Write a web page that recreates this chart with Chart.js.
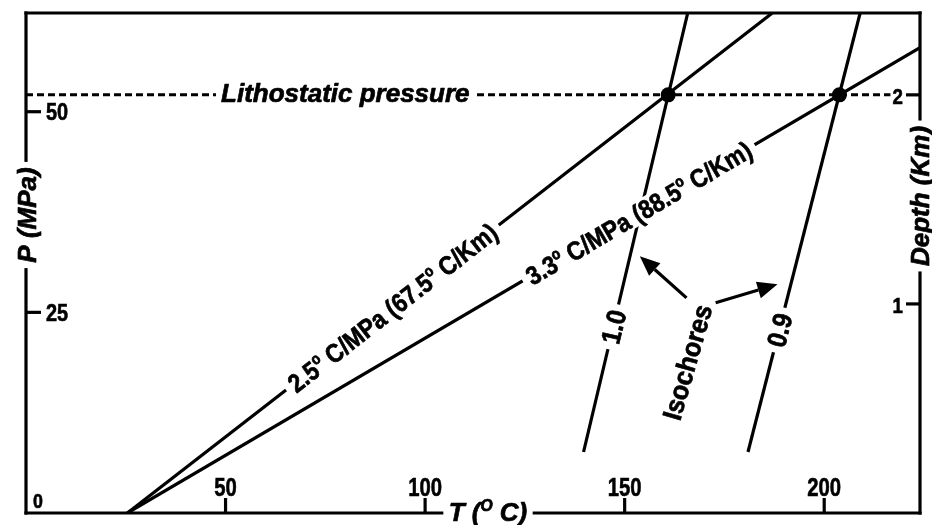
<!DOCTYPE html>
<html><head><meta charset="utf-8">
<script src="https://cdn.jsdelivr.net/npm/chart.js@4.4.1/dist/chart.umd.min.js"></script>
<style>html,body{margin:0;padding:0;background:#fff}</style>
</head><body>
<canvas id="c" width="932" height="525"></canvas>
<script>
// ---- data (T in °C, P in MPa) ----
const xTicks = [50, 100, 150, 200];
const yTicks = [25, 50];
const depthTicks = [1, 2];
const mpaPerKm = 26.05;
const lithostaticP = 52.1;
const geotherm25 = [{x: 25.4, y: 0}, {x: 187.0, y: 62.3}];
const geotherm33 = [{x: 25.4, y: 0}, {x: 224.4, y: 58.1}];
const isochore10 = [{x: 139.7, y: 7.6}, {x: 165.8, y: 62.3}];
const isochore09 = [{x: 180.9, y: 7.6}, {x: 209.0, y: 62.3}];
const lithostatic = [{x: 0, y: lithostaticP}, {x: 216.6, y: lithostaticP}];
const intersections = [{x: 160.9, y: lithostaticP}, {x: 203.8, y: lithostaticP}];

// ---- annotation anchors (data coords) ----
const arrows = [
  {from: {x: 165.5, y: 26.8}, to: {x: 153.8, y: 32.0}},
  {from: {x: 172.8, y: 26.2}, to: {x: 188.3, y: 28.5}}
];

const FONT = '"Liberation Sans", Arial, Helvetica, sans-serif';
function setFont(ctx, size, italic) {
  ctx.font = (italic ? 'italic ' : '') + 'bold ' + size + 'px ' + FONT;
}
function richWidth(ctx, parts, size, italic) {
  let w = 0;
  for (const p of parts) { setFont(ctx, p.sup ? size * 0.6 : size, italic); w += ctx.measureText(p.t).width; }
  return w;
}
function drawRich(ctx, parts, cx, cy, angle, size, sx, italic, bg) {
  ctx.save();
  ctx.translate(cx, cy); ctx.rotate(angle); ctx.scale(sx, 1);
  const w = richWidth(ctx, parts, size, italic);
  if (bg) { ctx.fillStyle = '#fff'; ctx.fillRect(-w / 2 - bg / sx, -size * 0.45, w + 2 * bg / sx, size * 0.9); }
  ctx.fillStyle = '#000'; ctx.strokeStyle = '#000'; ctx.lineWidth = 0.7; ctx.lineJoin = 'round';
  ctx.textAlign = 'left'; ctx.textBaseline = 'alphabetic';
  let x = -w / 2;
  for (const p of parts) {
    const s = p.sup ? size * 0.6 : size;
    setFont(ctx, s, italic);
    const yy = p.sup ? -size * 0.05 : size * 0.36;
    ctx.fillText(p.t, x, yy);
    ctx.strokeText(p.t, x, yy);
    x += ctx.measureText(p.t).width;
  }
  ctx.restore();
  return w * sx;
}
function simpleText(ctx, t, x, y, size, sx, align) {
  ctx.save(); setFont(ctx, size, false); ctx.translate(x, y); ctx.scale(sx, 1);
  ctx.fillStyle = '#000'; ctx.strokeStyle = '#000'; ctx.lineWidth = 0.6;
  ctx.textAlign = align; ctx.textBaseline = 'alphabetic';
  ctx.fillText(t, 0, size * 0.36); ctx.strokeText(t, 0, size * 0.36); ctx.restore();
}
function lineAngle(chart, pts) {
  const xs = chart.scales.x, ys = chart.scales.y;
  const a = pts[0], b = pts[pts.length - 1];
  return Math.atan2(ys.getPixelForValue(b.y) - ys.getPixelForValue(a.y), xs.getPixelForValue(b.x) - xs.getPixelForValue(a.x));
}
function onLine(pts, p) {
  const a = pts[0], b = pts[pts.length - 1];
  return a.x + (b.x - a.x) * (p - a.y) / (b.y - a.y);
}

const decor = {
  id: 'decor',
  afterDatasetsDraw(chart) {
    const ctx = chart.ctx, xs = chart.scales.x, ys = chart.scales.y, ca = chart.chartArea;
    const px = v => xs.getPixelForValue(v), py = v => ys.getPixelForValue(v);
    // line labels
    let p = 25.6;
    drawRich(ctx, [{t: '2.5'}, {t: 'o', sup: 1}, {t: ' C/MPa (67.5'}, {t: 'o', sup: 1}, {t: ' C/Km)'}],
      px(onLine(geotherm25, p)), py(p), lineAngle(chart, geotherm25), 26, 0.88, false, 6);
    p = 37.4;
    drawRich(ctx, [{t: '3.3'}, {t: 'o', sup: 1}, {t: ' C/MPa (88.5'}, {t: 'o', sup: 1}, {t: ' C/Km)'}],
      px(onLine(geotherm33, p)), py(p), lineAngle(chart, geotherm33), 26, 0.88, false, 6);
    p = 23.2;
    drawRich(ctx, [{t: '1.0'}], px(onLine(isochore10, p)), py(p), lineAngle(chart, isochore10), 27, 0.9, false, 6);
    p = 22.8;
    drawRich(ctx, [{t: '0.9'}], px(onLine(isochore09, p)), py(p), lineAngle(chart, isochore09), 27, 0.9, false, 6);
    drawRich(ctx, [{t: 'Isochores'}], px(165.6), py(18.8), -74 * Math.PI / 180, 27, 0.93, false, 0);
    drawRich(ctx, [{t: 'Lithostatic pressure'}], px(80), py(lithostaticP) - 2, 0, 26, 1, true, 5);

    // arrows
    ctx.save();
    ctx.strokeStyle = '#000'; ctx.fillStyle = '#000'; ctx.lineWidth = 3.2;
    for (const a of arrows) {
      const x1 = px(a.from.x), y1 = py(a.from.y), x2 = px(a.to.x), y2 = py(a.to.y);
      const ang = Math.atan2(y2 - y1, x2 - x1), L = 20, W = 8.5;
      const bx = x2 - L * Math.cos(ang), by = y2 - L * Math.sin(ang);
      ctx.beginPath(); ctx.moveTo(x1, y1); ctx.lineTo(bx, by); ctx.stroke();
      ctx.beginPath(); ctx.moveTo(x2, y2);
      ctx.lineTo(bx + W * Math.sin(ang), by - W * Math.cos(ang));
      ctx.lineTo(bx - W * Math.sin(ang), by + W * Math.cos(ang));
      ctx.closePath(); ctx.fill();
    }
    ctx.restore();

    // axis titles + framed axes with gaps
    ctx.save();
    const L = ca.left, R = ca.right, T = ca.top, B = ca.bottom;
    const tPar = [{t: 'T ('}, {t: 'O', sup: 1}, {t: ' C)'}];
    const tW = drawRich(ctx, tPar, 488, B - 1, 0, 26, 1, true, 0);
    const pW = drawRich(ctx, [{t: 'P (MPa)'}], L + 1, 215, -Math.PI / 2, 26, 1, true, 0);
    const dW = drawRich(ctx, [{t: 'Depth (Km)'}], R, 196, -Math.PI / 2, 26, 1, true, 0);
    ctx.strokeStyle = '#000'; ctx.lineWidth = 3.2; ctx.lineCap = 'square';
    const seg = (a, b, c, d) => { ctx.beginPath(); ctx.moveTo(a, b); ctx.lineTo(c, d); ctx.stroke(); };
    const g = 7;
    seg(L, T, R, T);
    seg(L, T, L, 215 - pW / 2 - g); seg(L, 215 + pW / 2 + g, L, B);
    seg(L, B, 488 - tW / 2 - g, B); seg(488 + tW / 2 + g, B, R, B);
    seg(R, T, R, 196 - dW / 2 - g); seg(R, 196 + dW / 2 + g, R, B);

    // ticks
    ctx.lineCap = 'butt';
    for (const v of xTicks) {
      const x = px(v); seg(x, B, x, B - 15);
      simpleText(ctx, String(v), x, B - 26, 26, 0.78, 'center');
    }
    for (const v of yTicks) {
      const y = py(v); seg(L, y, L + 15, y);
      simpleText(ctx, String(v), L + 20, y, 24, 0.83, 'left');
    }
    simpleText(ctx, '0', L + 7, B - 13, 21, 0.85, 'left');
    for (const d of depthTicks) {
      const y = py(d * mpaPerKm); seg(R, y, R - 14, y);
      simpleText(ctx, String(d), R - 17, y + 1, 22, 0.85, 'right');
    }
    ctx.restore();
  }
};

const lineDs = (data, extra) => Object.assign({
  type: 'line', data, borderColor: '#000', borderWidth: 3.2, pointRadius: 0, fill: false, tension: 0, order: 2
}, extra || {});

new Chart(document.getElementById('c'), {
  type: 'scatter',
  data: {
    datasets: [
      {type: 'scatter', data: intersections, pointRadius: 7.5, pointBackgroundColor: '#000', pointBorderColor: '#000', pointBorderWidth: 0, order: 0},
      lineDs(geotherm25),
      lineDs(geotherm33),
      lineDs(isochore10),
      lineDs(isochore09),
      lineDs(lithostatic, {borderWidth: 3, borderDash: [7, 4], order: 1})
    ]
  },
  options: {
    responsive: false, animation: false,
    layout: {padding: {left: 26, right: 12, top: 13, bottom: 12}},
    plugins: {legend: {display: false}, tooltip: {enabled: false}},
    scales: {
      x: {type: 'linear', min: 0, max: 224, display: false},
      y: {type: 'linear', min: 0, max: 62.3, display: false}
    }
  },
  plugins: [decor]
});
</script>
</body></html>
